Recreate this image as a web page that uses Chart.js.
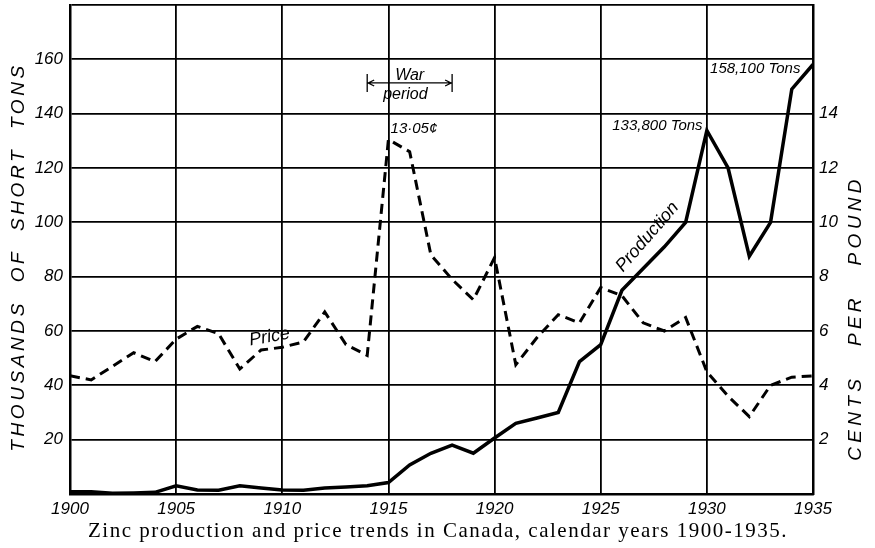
<!DOCTYPE html>
<html>
<head>
<meta charset="utf-8">
<script src="https://cdn.jsdelivr.net/npm/chart.js@4.4.0/dist/chart.umd.min.js"></script>
<style>
body { margin: 0; background: #fff; }
</style>
</head>
<body>
<canvas id="chart" width="875" height="548"></canvas>
<script>
// years on the x axis
const years = [1900, 1901, 1902, 1903, 1904, 1905, 1906, 1907, 1908, 1909,
               1910, 1911, 1912, 1913, 1914, 1915, 1916, 1917, 1918, 1919,
               1920, 1921, 1922, 1923, 1924, 1925, 1926, 1927, 1928, 1929,
               1930, 1931, 1932, 1933, 1934, 1935];

// production, thousands of short tons (left axis)
const production = [0.8, 0.8, 0.3, 0.4, 0.6, 3.0, 1.5, 1.4, 3.0, 2.2,
                    1.5, 1.4, 2.2, 2.6, 3.0, 4.2, 10.7, 15, 18, 15,
                    20.6, 26, 28, 30, 48.7, 55, 75, 83, 91, 100,
                    133.8, 120, 87.5, 100, 149, 158.1];

// price, cents per pound (right axis)
const price = [4.35, 4.2, 4.7, 5.2, 4.87, 5.7, 6.17, 5.9, 4.6, 5.3,
               5.4, 5.6, 6.7, 5.5, 5.1, 13.05, 12.6, 8.8, 7.9, 7.15,
               8.7, 4.76, 5.76, 6.6, 6.3, 7.6, 7.3, 6.3, 6.0, 6.5,
               4.5, 3.6, 2.85, 4.0, 4.3, 4.35];

const leftTicks = [20, 40, 60, 80, 100, 120, 140, 160];
const rightTicks = [2, 4, 6, 8, 10, 12, 14];
const yearTicks = [1900, 1905, 1910, 1915, 1920, 1925, 1930, 1935];

const caption = 'Zinc production and price trends in Canada, calendar years 1900-1935.';

const tickFont = { family: 'Liberation Sans', size: 17, style: 'italic' };

const bg = {
    id: 'bg',
    beforeDraw(chart) {
        const c = chart.ctx;
        c.save();
        c.fillStyle = '#fff';
        c.fillRect(0, 0, chart.width, chart.height);
        c.restore();
    }
};

const notes = {
    id: 'notes',
    afterDraw(chart) {
        const c = chart.ctx;
        const x = chart.scales.x, y = chart.scales.y;
        c.save();
        c.fillStyle = '#000';
        c.strokeStyle = '#000';

        // axis titles
        c.font = 'italic 19px "Liberation Sans"';
        c.textAlign = 'center';
        c.textBaseline = 'middle';
        c.letterSpacing = '3.6px';
        c.save();
        c.translate(19, 257);
        c.rotate(-Math.PI / 2);
        c.fillText('THOUSANDS  OF  SHORT  TONS', 0, 0);
        c.restore();
        c.letterSpacing = '4.3px';
        c.save();
        c.translate(856, 318);
        c.rotate(-Math.PI / 2);
        c.fillText('CENTS   PER   POUND', 0, 0);
        c.restore();

        // caption under the chart
        c.font = '21px "Liberation Serif"';
        c.letterSpacing = '1.5px';
        c.textBaseline = 'alphabetic';
        c.fillText(caption, 438, 537);
        c.letterSpacing = '0px';

        // war period bracket
        const x1 = x.getPixelForValue(1914), x2 = x.getPixelForValue(1918);
        const yb = y.getPixelForValue(151.3);
        c.lineWidth = 1.3;
        c.beginPath();
        c.moveTo(x1, yb - 9); c.lineTo(x1, yb + 9);
        c.moveTo(x2, yb - 9); c.lineTo(x2, yb + 9);
        c.moveTo(x1, yb); c.lineTo(x2, yb);
        c.moveTo(x1 + 7, yb - 3); c.lineTo(x1 + 1, yb); c.lineTo(x1 + 7, yb + 3);
        c.moveTo(x2 - 7, yb - 3); c.lineTo(x2 - 1, yb); c.lineTo(x2 - 7, yb + 3);
        c.stroke();

        c.font = 'italic 16px "Liberation Sans"';
        c.textAlign = 'center';
        c.fillText('War', x.getPixelForValue(1916), y.getPixelForValue(152.5));
        c.fillText('period', x.getPixelForValue(1915.8), y.getPixelForValue(145.5));

        c.font = 'italic 15px "Liberation Sans"';
        c.textAlign = 'left';
        c.fillText('13·05¢', x.getPixelForValue(1915.1), y.getPixelForValue(133));
        c.textAlign = 'right';
        c.fillText('133,800 Tons', x.getPixelForValue(1929.8), y.getPixelForValue(134));
        c.textAlign = 'left';
        c.fillText('158,100 Tons', x.getPixelForValue(1930.15), y.getPixelForValue(155));

        // series labels
        c.font = 'italic 18px "Liberation Sans"';
        c.textAlign = 'center';
        c.textBaseline = 'middle';
        c.save();
        c.translate(x.getPixelForValue(1927.2), y.getPixelForValue(94.6));
        c.rotate(-49 * Math.PI / 180);
        c.fillText('Production', 0, 0);
        c.restore();
        c.save();
        c.translate(x.getPixelForValue(1909.4), y.getPixelForValue(57.8));
        c.rotate(-10 * Math.PI / 180);
        c.fillText('Price', 0, 0);
        c.restore();

        c.restore();
    }
};

new Chart(document.getElementById('chart'), {
    type: 'line',
    data: {
        datasets: [{
            label: 'Production',
            data: years.map((yr, i) => ({ x: yr, y: production[i] })),
            yAxisID: 'y',
            borderColor: '#000',
            borderWidth: 3.5,
            pointRadius: 0,
            tension: 0
        }, {
            label: 'Price',
            data: years.map((yr, i) => ({ x: yr, y: price[i] })),
            yAxisID: 'y2',
            borderColor: '#000',
            borderWidth: 3,
            borderDash: [10, 6],
            pointRadius: 0,
            tension: 0
        }]
    },
    options: {
        responsive: false,
        animation: false,
        devicePixelRatio: 1,
        layout: { padding: { top: 5, left: 0, right: 0, bottom: 0 } },
        plugins: {
            legend: { display: false },
            tooltip: { enabled: false }
        },
        scales: {
            x: {
                type: 'linear',
                min: 1900,
                max: 1935,
                afterFit(s) { s.height = 54; s.paddingLeft = 0; s.paddingRight = 0; },
                afterBuildTicks(s) { s.ticks = yearTicks.map(v => ({ value: v })); },
                ticks: {
                    color: '#000',
                    font: tickFont,
                    padding: 5,
                    maxRotation: 0,
                    callback: v => String(v)
                },
                grid: { color: '#000', lineWidth: 1.8, drawTicks: false },
                border: { color: '#000', width: 2.5 }
            },
            y: {
                position: 'left',
                min: 0,
                max: 180,
                afterFit(s) { s.width = 70; s.paddingTop = 0; s.paddingBottom = 0; },
                ticks: {
                    stepSize: 20,
                    color: '#000',
                    font: tickFont,
                    padding: 7,
                    callback: v => leftTicks.includes(v) ? String(v) : ''
                },
                grid: { color: '#000', lineWidth: 1.8, drawTicks: false },
                border: { color: '#000', width: 2.5 }
            },
            y2: {
                position: 'right',
                min: 0,
                max: 18,
                afterFit(s) { s.width = 62; s.paddingTop = 0; s.paddingBottom = 0; },
                ticks: {
                    stepSize: 2,
                    color: '#000',
                    font: tickFont,
                    padding: 6,
                    callback: v => rightTicks.includes(v) ? String(v) : ''
                },
                grid: { display: false, drawTicks: false },
                border: { color: '#000', width: 2.5 }
            }
        }
    },
    plugins: [bg, notes]
});
</script>
</body>
</html>
